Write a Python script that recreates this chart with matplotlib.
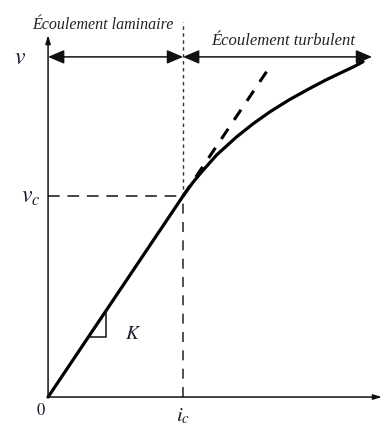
import matplotlib.pyplot as plt
from matplotlib.patches import FancyArrowPatch

plt.rcParams['mathtext.fontset'] = 'stix'

# Unités réduites : i_c = 1, v_c = 1, pente K = 1
i_c = 1.0
v_c = 1.0
K = 1.0

# Régime laminaire : v = K * i
i_lam = [0.0, 1.0]
v_lam = [0.0, 1.0]

# Régime turbulent
i_turb = [1.0, 1.07, 1.139, 1.25, 1.398, 1.52, 1.644, 1.79, 1.941, 2.06, 2.185, 2.27, 2.333]
v_turb = [1.0, 1.065, 1.121, 1.205, 1.295, 1.36, 1.419, 1.48, 1.536, 1.578, 1.618, 1.645, 1.668]

# Prolongement de la droite laminaire
i_tan = [1.0, 1.66]
v_tan = [1.0, 1.66]

i_max = 2.474
v_max = 1.801
y_fleche = 1.692
i_fleche = 2.40

fig = plt.figure(figsize=(3.83, 4.28), dpi=100)
ax = fig.add_axes([0, 0, 1, 1])
ax.set_xlim(-0.356, 2.481)
ax.set_ylim(-0.154, 1.975)
ax.axis('off')

encre = '#111111'

# Axes
ax.annotate('', xy=(0, v_max), xytext=(0, 0),
            arrowprops=dict(arrowstyle='-|>,head_length=0.5,head_width=0.15', color=encre, lw=1.1, shrinkA=0, shrinkB=0))
ax.annotate('', xy=(i_max, 0), xytext=(-0.005, 0),
            arrowprops=dict(arrowstyle='-|>,head_length=0.5,head_width=0.15', color=encre, lw=1.1, shrinkA=0, shrinkB=0))

# Repères i_c et v_c
ax.plot([0, i_c], [v_c, v_c], color='#444444', lw=1.4, dashes=(6, 4))
ax.plot([i_c, i_c], [0, v_c], color='#333333', lw=1.2, dashes=(6, 5))
ax.plot([i_c, i_c], [v_c, 1.866], color='#333333', lw=1.0, dashes=(2.5, 2.5))

# Courbe v(i)
ax.plot(i_lam, v_lam, color='black', lw=2.3, solid_capstyle='round')
ax.plot(i_turb, v_turb, color='black', lw=2.3, solid_capstyle='round')
ax.plot(i_tan, v_tan, color='black', lw=2.2, dashes=(4, 3.5))

# Triangle de pente
ax.plot([0.30, 0.43, 0.43], [0.30, 0.30, 0.43], color=encre, lw=1.1)

# Flèches des deux régimes
for x0, x1 in [(0, i_c), (i_c, i_fleche)]:
    ax.add_patch(FancyArrowPatch((x0, y_fleche), (x1, y_fleche),
                                 arrowstyle='<|-|>,head_length=0.7,head_width=0.3',
                                 color=encre, lw=1.1, shrinkA=0, shrinkB=0,
                                 mutation_scale=14))

# Textes
ax.text(0.407, 1.851, 'Écoulement laminaire', family='Liberation Serif', style='italic',
        fontsize=11.5, ha='center', va='center', color='#222222')
ax.text(1.741, 1.771, 'Écoulement turbulent', family='Liberation Serif', style='italic',
        fontsize=12, ha='center', va='center', color='#222222')

lab = dict(fontsize=17, ha='center', va='center', color='#1c1c2e')
ax.text(-0.207, y_fleche, r'$v$', **lab)
ax.text(-0.13, v_c, r'$v_c$', **lab)
ax.text(-0.052, -0.065, r'$0$', fontsize=12, ha='center', va='center', color='#1c1c2e')
ax.text(i_c, -0.095, r'$i_c$', fontsize=15, ha='center', va='center', color='#1c1c2e')
ax.text(0.63, 0.318, r'$K$', fontsize=14, ha='center', va='center', color='#1c1c2e')

fig.savefig('out.png', dpi=100)
